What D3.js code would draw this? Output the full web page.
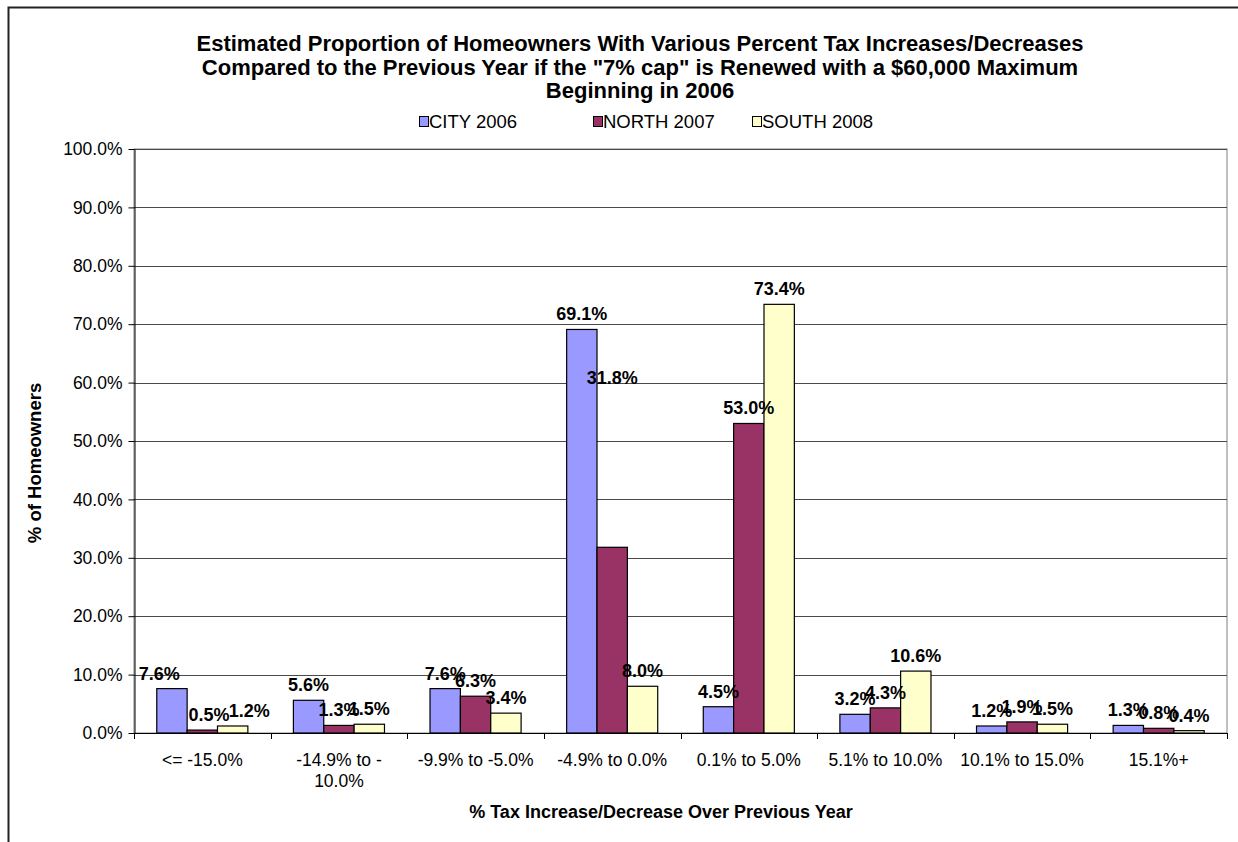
<!DOCTYPE html>
<html>
<head>
<meta charset="utf-8">
<script src="https://cdn.jsdelivr.net/npm/d3@7"></script>
<style>
  html, body { margin: 0; padding: 0; background: #fff; }
  svg { display: block; font-family: Arial, "Liberation Sans", sans-serif; }
</style>
</head>
<body>
<svg id="chart" width="1238" height="842"></svg>
<script>
const titleLines = [
  "Estimated Proportion of Homeowners With Various Percent Tax Increases/Decreases",
  "Compared to the Previous Year if the \"7% cap\" is Renewed with a $60,000 Maximum",
  "Beginning in 2006"
];
const categories = ["<= -15.0%", "-14.9% to -10.0%", "-9.9% to -5.0%", "-4.9% to 0.0%", "0.1% to 5.0%", "5.1% to 10.0%", "10.1% to 15.0%", "15.1%+"];
const seriesNames = ["CITY 2006", "NORTH 2007", "SOUTH 2008"];
const cityValues  = [7.6, 5.6, 7.6, 69.1, 4.5, 3.2, 1.2, 1.3];
const northValues = [0.5, 1.3, 6.3, 31.8, 53.0, 4.3, 1.9, 0.8];
const southValues = [1.2, 1.5, 3.4, 8.0, 73.4, 10.6, 1.5, 0.4];
const yTicks = [0, 10, 20, 30, 40, 50, 60, 70, 80, 90, 100];
const colors = ["#9999FF", "#993366", "#FFFFCC"];
// data-label placement quirks seen in the reference (label lift in percentage points, shift in bar widths)
const cityLabelLift  = [0, 0, 0, 0, 0, 0, 0, 0];
const northLabelLift = [0, 0, 0, 26.5, 0, 0, 0, 0];
const southLabelLift = [0, 0, 0, 0, 0, 0, 0, 0];
const cityLabelShift  = [-0.42, 0, 0, 0, 0, 0, 0, 0];
const northLabelShift = [0.22, 0, 0, 0, 0, 0, 0, 0];
const southLabelShift = [0.55, 0, 0, 0, 0, 0, 0, 0];

const seriesValues = [cityValues, northValues, southValues];
const labelLifts = [cityLabelLift, northLabelLift, southLabelLift];
const labelShifts = [cityLabelShift, northLabelShift, southLabelShift];
const svg = d3.select("#chart");

const plot = { left: 134, right: 1227, top: 149, bottom: 733 };

const x = d3.scaleBand().domain(categories).range([plot.left, plot.right]).paddingInner(0).paddingOuter(0);
const xs = d3.scaleBand().domain(seriesNames).range([0, x.bandwidth()]).paddingInner(0).paddingOuter(0.75);
const y = d3.scaleLinear().domain([0, 100]).range([plot.bottom, plot.top]);
const color = d3.scaleOrdinal().domain(seriesNames).range(colors);

// chart frame (only left/top edges visible in window)
svg.append("path")
  .attr("d", "M8.5,850 L8.5,7.5 L1250,7.5")
  .attr("fill", "none").attr("stroke", "#222").attr("stroke-width", 2);

// plot area border
svg.append("rect")
  .attr("x", plot.left).attr("y", plot.top)
  .attr("width", plot.right - plot.left).attr("height", plot.bottom - plot.top)
  .attr("fill", "none").attr("stroke", "#808080").attr("stroke-width", 1);

// gridlines
svg.append("g").selectAll("line").data(yTicks.filter(d => d > 0)).join("line")
  .attr("x1", plot.left).attr("x2", plot.right)
  .attr("y1", d => Math.round(y(d)) + 0.5).attr("y2", d => Math.round(y(d)) + 0.5)
  .attr("stroke", "#4a4a4a").attr("stroke-width", 1);

// y axis
const yAxis = svg.append("g").attr("transform", `translate(${plot.left + 0.5},0)`)
  .call(d3.axisLeft(y).tickValues(yTicks).tickFormat(d => d.toFixed(1) + "%").tickSize(6).tickSizeOuter(0).tickPadding(6));
yAxis.select(".domain").attr("stroke", "#000");
yAxis.selectAll(".tick line").attr("stroke", "#000");
yAxis.selectAll(".tick text").attr("font-size", 17.5).attr("fill", "#000").attr("font-family", "Arial, 'Liberation Sans', sans-serif");

// bars
const groups = svg.append("g").selectAll("g").data(seriesNames).join("g")
  .attr("fill", d => color(d));
groups.each(function(name, si) {
  d3.select(this).selectAll("rect").data(categories).join("rect")
    .attr("x", c => x(c) + xs(name))
    .attr("y", (c, i) => y(seriesValues[si][i]))
    .attr("width", xs.bandwidth())
    .attr("height", (c, i) => y(0) - y(seriesValues[si][i]))
    .attr("stroke", "#000").attr("stroke-width", 1.2);
});

// x axis line and boundary ticks
svg.append("line")
  .attr("x1", plot.left).attr("x2", plot.right)
  .attr("y1", y(0) + 0.5).attr("y2", y(0) + 0.5)
  .attr("stroke", "#000");
const boundaries = categories.map(c => x(c)).concat([x(categories[categories.length - 1]) + x.bandwidth()]);
svg.append("g").selectAll("line").data(boundaries).join("line")
  .attr("x1", d => Math.round(d) + 0.5).attr("x2", d => Math.round(d) + 0.5)
  .attr("y1", y(0)).attr("y2", y(0) + 6)
  .attr("stroke", "#000");

// x tick labels with wrapping (breaks allowed after spaces and hyphens)
function wrapTokens(str) {
  return str.match(/[^\s-]*[\s-]?/g).filter(t => t.length);
}
const tickFont = 17.5;
const measurer = svg.append("text").attr("font-size", tickFont).attr("visibility", "hidden");
function textWidth(s) { measurer.text(s); return measurer.node().getComputedTextLength(); }
const maxW = 132;
categories.forEach(c => {
  const tokens = wrapTokens(c);
  const lines = [];
  let cur = "";
  tokens.forEach(t => {
    if (cur && textWidth((cur + t).trimEnd()) > maxW) { lines.push(cur.trimEnd()); cur = t; }
    else cur += t;
  });
  if (cur) lines.push(cur.trimEnd());
  const t = svg.append("text")
    .attr("x", x(c) + x.bandwidth() / 2)
    .attr("y", y(0) + 33)
    .attr("text-anchor", "middle")
    .attr("font-size", tickFont).attr("fill", "#000");
  lines.forEach((ln, i) => t.append("tspan").attr("x", x(c) + x.bandwidth() / 2).attr("dy", i === 0 ? 0 : 21).text(ln));
});
measurer.remove();

// data labels
groups.each(function(name, si) {
  svg.append("g").selectAll("text").data(categories).join("text")
    .attr("x", (c, i) => x(c) + xs(name) + xs.bandwidth() * (0.5 + labelShifts[si][i]))
    .attr("y", (c, i) => y(seriesValues[si][i] + labelLifts[si][i]) - 9)
    .attr("text-anchor", "middle")
    .attr("font-size", 18).attr("font-weight", "bold").attr("fill", "#000")
    .text((c, i) => seriesValues[si][i].toFixed(1) + "%");
});

// title
svg.append("g").selectAll("text").data(titleLines).join("text")
  .attr("x", 640).attr("y", (d, i) => 51 + i * 23.5)
  .attr("text-anchor", "middle")
  .attr("font-size", 22).attr("font-weight", "bold").attr("fill", "#000")
  .text(d => d);

// legend
const legendX = [419, 593, 752];
const legend = svg.append("g").selectAll("g").data(seriesNames).join("g")
  .attr("transform", (d, i) => `translate(${legendX[i]},116)`);
legend.append("rect").attr("x", 0.5).attr("y", 0.5).attr("width", 9).attr("height", 10)
  .attr("fill", d => color(d)).attr("stroke", "#000").attr("stroke-width", 1);
legend.append("text").attr("x", 10).attr("y", 12).attr("font-size", 18.5).attr("fill", "#000").text(d => d);

// axis titles
svg.append("text")
  .attr("transform", `translate(41,463) rotate(-90)`)
  .attr("text-anchor", "middle").attr("font-size", 18.5).attr("font-weight", "bold")
  .text("% of Homeowners");
svg.append("text")
  .attr("x", 661).attr("y", 818)
  .attr("text-anchor", "middle").attr("font-size", 18).attr("font-weight", "bold")
  .text("% Tax Increase/Decrease Over Previous Year");
</script>
</body>
</html>
